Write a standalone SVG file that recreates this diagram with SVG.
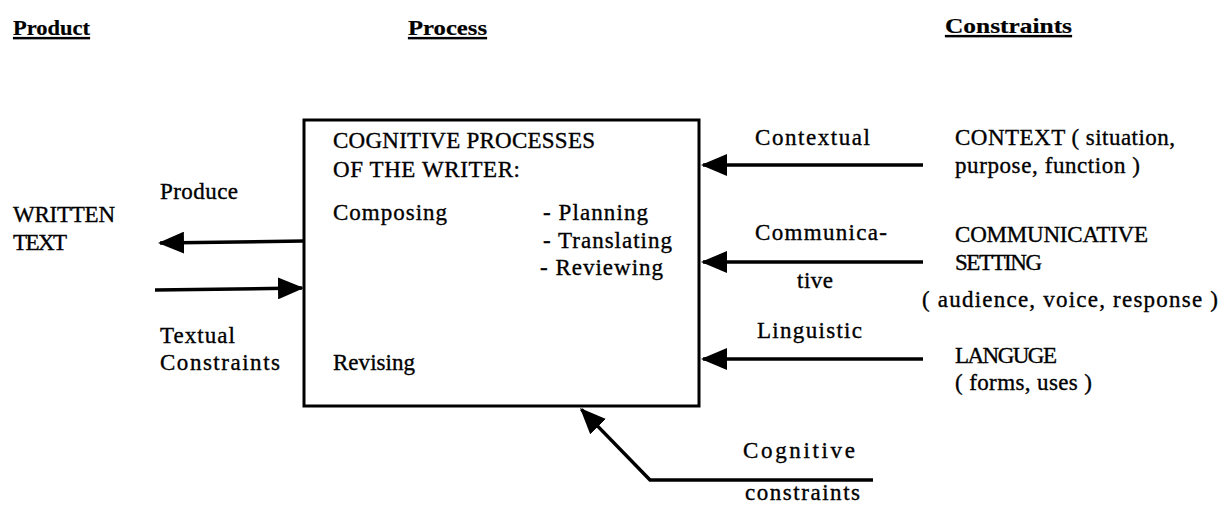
<svg xmlns="http://www.w3.org/2000/svg" width="1223" height="510" viewBox="0 0 1223 510">
<style>
text{font-family:"Liberation Serif","Times New Roman",serif;font-size:23px;fill:#000;stroke:#000;stroke-width:0.35}
.hd{font-weight:bold;font-size:22px;text-decoration:underline;stroke-width:0.2}
.box{fill:#fff;stroke:#000;stroke-width:3}
.ln{fill:none;stroke:#000;stroke-width:3.5;marker-end:url(#ah)}
</style>
<defs>
<marker id="ah" viewBox="0 0 26 22" markerWidth="26" markerHeight="22" refX="24" refY="11" orient="auto" markerUnits="userSpaceOnUse">
<path d="M0,0 L26,11 L0,22 z" fill="#000"/>
</marker>
</defs>
<rect width="1223" height="510" fill="#fff"/>
<g id="headers">
<text class="hd" x="13" y="35" textLength="77" lengthAdjust="spacingAndGlyphs">Product</text>
<text class="hd" x="408" y="35" textLength="79" lengthAdjust="spacingAndGlyphs">Process</text>
<text class="hd" x="945" y="33" textLength="127" lengthAdjust="spacingAndGlyphs">Constraints</text>
</g>
<g id="process-box">
<rect class="box" x="304" y="120" width="395" height="286"/>
<text x="333" y="148" textLength="262">COGNITIVE PROCESSES</text>
<text x="333" y="177" textLength="187">OF THE WRITER:</text>
<text x="333" y="220" textLength="114">Composing</text>
<text x="543" y="220" textLength="105">- Planning</text>
<text x="543" y="248" textLength="129">- Translating</text>
<text x="540" y="275" textLength="123">- Reviewing</text>
<text x="333" y="370" textLength="82">Revising</text>
</g>
<g id="written-text">
<text x="13" y="222" textLength="102">WRITTEN</text>
<text x="13" y="250" textLength="54">TEXT</text>
</g>
<g id="context">
<text x="955" y="145" textLength="220">CONTEXT ( situation,</text>
<text x="955" y="173" textLength="185">purpose, function )</text>
</g>
<g id="communicative-setting">
<text x="955" y="242" textLength="193">COMMUNICATIVE</text>
<text x="955" y="270" textLength="87">SETTING</text>
<text x="922" y="307" textLength="296">( audience, voice, response )</text>
</g>
<g id="language">
<text x="955" y="363" textLength="102">LANGUGE</text>
<text x="955" y="390" textLength="137">( forms, uses )</text>
</g>
<g id="connectors">
<line class="ln" x1="304" y1="241" x2="160" y2="243"/>
<line class="ln" x1="155" y1="290" x2="302" y2="288"/>
<line class="ln" x1="923" y1="165" x2="703" y2="165"/>
<line class="ln" x1="923" y1="262" x2="703" y2="262"/>
<line class="ln" x1="923" y1="359" x2="703" y2="359"/>
<polyline class="ln" points="873,480 650,480 581.4,409.4"/>
</g>
<g id="connector-labels">
<text x="160" y="199" textLength="78">Produce</text>
<text x="160" y="343" textLength="75">Textual</text>
<text x="160" y="370" textLength="120">Constraints</text>
<text x="755" y="145" textLength="115">Contextual</text>
<text x="755" y="240" textLength="132">Communica-</text>
<text x="797" y="288" textLength="36">tive</text>
<text x="757" y="338" textLength="105">Linguistic</text>
<text x="743" y="458" textLength="112">Cognitive</text>
<text x="745" y="500" textLength="115">constraints</text>
</g>
</svg>
